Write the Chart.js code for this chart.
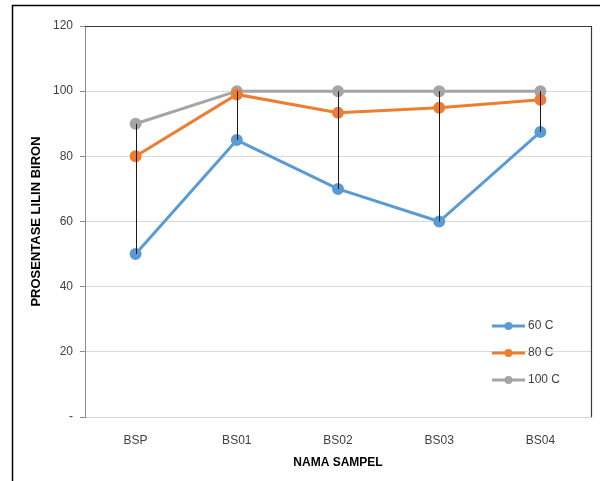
<!DOCTYPE html>
<html>
<head>
<meta charset="utf-8">
<script src="https://cdn.jsdelivr.net/npm/chart.js@4/dist/chart.umd.min.js"></script>
<style>
  html, body { margin: 0; padding: 0; background: #fff; }
  #wrap { width: 600px; height: 481px; position: relative; }
</style>
</head>
<body>
<div id="wrap"><canvas id="c" width="600" height="481"></canvas></div>
<script>
// Sample names and wax percentage per drying temperature
const categories = ['BSP', 'BS01', 'BS02', 'BS03', 'BS04'];
const temp60 = [50, 85, 70, 60, 87.5];
const temp80 = [80, 99, 93.4, 94.9, 97.4];
const temp100 = [90, 100, 100, 100, 100];
const seriesLabels = ['60 C', '80 C', '100 C'];
const yTicks = [0, 20, 40, 60, 80, 100, 120];

const colors = ['#5B9BD5', '#ED7D31', '#A5A5A5'];
const tickFont = { family: "'Liberation Sans Narrow', 'Liberation Sans', Arial, sans-serif", size: 12 };

// Frame around the figure, high-low lines and the in-plot legend
const decor = {
  id: 'decor',
  beforeDraw(chart) {
    const ctx = chart.ctx;
    ctx.save();
    ctx.fillStyle = '#fff';
    ctx.fillRect(0, 0, chart.width, chart.height);
    ctx.strokeStyle = '#000';
    ctx.lineWidth = 1.5;
    ctx.beginPath();
    ctx.moveTo(12.5, chart.height);
    ctx.lineTo(12.5, 5.5);
    ctx.lineTo(chart.width, 5.5);
    ctx.stroke();
    ctx.restore();
  },
  afterDatasetsDraw(chart) {
    const ctx = chart.ctx;
    const xs = chart.scales.x, ys = chart.scales.y;
    const a = chart.chartArea;
    ctx.save();
    // plot border on top and right
    ctx.strokeStyle = '#3a3a3a';
    ctx.lineWidth = 1.2;
    ctx.beginPath();
    ctx.moveTo(a.left, a.top + 0.5);
    ctx.lineTo(a.right + 0.5, a.top + 0.5);
    ctx.lineTo(a.right + 0.5, a.bottom);
    ctx.stroke();
    // high-low lines
    ctx.strokeStyle = '#1a1a1a';
    ctx.lineWidth = 1;
    const sets = chart.data.datasets.map(d => d.data);
    categories.forEach((c, i) => {
      const vals = sets.map(s => s[i]);
      const hi = Math.max(...vals), lo = Math.min(...vals);
      const x = Math.round(xs.getPixelForValue(i)) + 0.5;
      ctx.beginPath();
      ctx.moveTo(x, ys.getPixelForValue(hi));
      ctx.lineTo(x, ys.getPixelForValue(lo));
      ctx.stroke();
    });
    // legend
    const lx = a.right - 99, ly0 = a.top + 300, gap = 27;
    chart.data.datasets.forEach((d, k) => {
      const y = ly0 + k * gap;
      ctx.strokeStyle = d.borderColor;
      ctx.lineWidth = 3;
      ctx.beginPath();
      ctx.moveTo(lx, y);
      ctx.lineTo(lx + 33, y);
      ctx.stroke();
      ctx.fillStyle = d.borderColor;
      ctx.beginPath();
      ctx.arc(lx + 16.5, y, 4, 0, Math.PI * 2);
      ctx.fill();
      ctx.fillStyle = '#404040';
      ctx.font = tickFont.size + 'px ' + tickFont.family;
      ctx.textBaseline = 'middle';
      ctx.textAlign = 'left';
      ctx.fillText(d.label, lx + 36, y);
    });
    ctx.restore();
  }
};

const mk = (label, data, color) => ({
  label, data,
  borderColor: color, backgroundColor: color,
  pointBackgroundColor: color, pointBorderColor: color,
  borderWidth: 3, pointRadius: 4.5, pointHoverRadius: 4.5,
  tension: 0
});

new Chart(document.getElementById('c'), {
  type: 'line',
  data: {
    labels: categories,
    datasets: [
      mk(seriesLabels[0], temp60, colors[0]),
      mk(seriesLabels[1], temp80, colors[1]),
      mk(seriesLabels[2], temp100, colors[2])
    ]
  },
  options: {
    responsive: false,
    animation: false,
    devicePixelRatio: 1,
    layout: { padding: { left: 12, top: 26, right: 9, bottom: 0 } },
    plugins: { legend: { display: false }, tooltip: { enabled: false } },
    scales: {
      x: {
        offset: true,
        grid: { display: false, drawTicks: false },
        border: { display: true, color: '#d0d0d0', width: 1 },
        ticks: { color: '#404040', font: tickFont, padding: 16 },
        title: {
          display: true, text: 'NAMA SAMPEL', color: '#000',
          font: { family: "'Liberation Sans', Arial, sans-serif", size: 12, weight: 'bold' },
          padding: { top: 4, bottom: 11 }
        },
        afterFit(s) { s.height = 64; }
      },
      y: {
        min: 0, max: 120,
        afterBuildTicks(s) { s.ticks = yTicks.map(v => ({ value: v })); },
        grid: {
          color: ctx => (ctx.tick && ctx.tick.value === 0) ? '#d0d0d0' : '#d9d9d9',
          tickColor: '#8c8c8c', tickLength: 5, lineWidth: 1
        },
        border: { display: true, color: '#8c8c8c', width: 1 },
        ticks: {
          color: '#404040', font: tickFont, padding: 7,
          callback: v => v === 0 ? '-' : String(v)
        },
        title: {
          display: true, text: 'PROSENTASE LILIN BIRON', color: '#000',
          font: { family: "'Liberation Sans', Arial, sans-serif", size: 13, weight: 'bold' },
          padding: { top: 17, bottom: 4 }
        },
        afterFit(s) { s.width = 73; }
      }
    }
  },
  plugins: [decor]
});
</script>
</body>
</html>
